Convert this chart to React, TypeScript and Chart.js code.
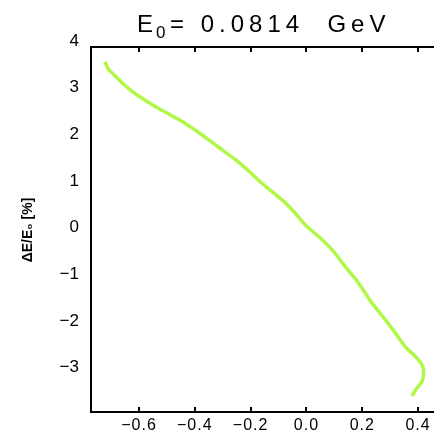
import React, { useEffect, useRef } from "react";
import { Chart, registerables } from "chart.js";

Chart.register(...registerables);

const titleMain = "E";
const titleSub = "0";
const titleRest = "= 0.0814  GeV";
const yTitle = "ΔE/E₀ [%]";

const xTicks = [-0.6, -0.4, -0.2, 0.0, 0.2, 0.4];
const yTicks = [-3, -2, -1, 0, 1, 2, 3, 4];

const phaseX = [
  -0.722, -0.71, -0.686, -0.656, -0.62, -0.585, -0.537, -0.489, -0.441, -0.393,
  -0.346, -0.298, -0.25, -0.202, -0.16, -0.087, -0.04, -0.004, 0.044, 0.092,
  0.139, 0.187, 0.235, 0.283, 0.319, 0.354, 0.39, 0.414, 0.42, 0.414, 0.396, 0.378,
];
const energyY = [
  3.685, 3.529, 3.385, 3.208, 3.03, 2.887, 2.709, 2.55, 2.388, 2.195,
  1.994, 1.778, 1.566, 1.317, 1.081, 0.724, 0.439, 0.188, -0.062, -0.347,
  -0.704, -1.06, -1.488, -1.846, -2.131, -2.418, -2.632, -2.809, -2.987, -3.167, -3.308, -3.473,
];

const FONT = "'Liberation Sans', 'DejaVu Sans', sans-serif";
const fmtMinus = (s: string) => s.replace("-", "−");

const framePlugin = {
  id: "frame",
  afterDraw(chart: any) {
    const { ctx, chartArea } = chart;
    const xs = chart.scales.x;
    const ys = chart.scales.y;
    ctx.save();
    ctx.strokeStyle = "#000";
    ctx.lineWidth = 2;
    ctx.beginPath();
    ctx.moveTo(chartArea.right + 2, chartArea.top);
    ctx.lineTo(chartArea.left, chartArea.top);
    ctx.lineTo(chartArea.left, chartArea.bottom);
    ctx.lineTo(chartArea.right + 2, chartArea.bottom);
    ctx.stroke();
    for (const v of xTicks) {
      const px = Math.round(xs.getPixelForValue(v));
      ctx.beginPath();
      ctx.moveTo(px, chartArea.top);
      ctx.lineTo(px, chartArea.top + 5);
      ctx.moveTo(px, chartArea.bottom);
      ctx.lineTo(px, chartArea.bottom - 5);
      ctx.stroke();
    }
    ctx.fillStyle = "#000";
    // x tick labels
    ctx.font = `16px ${FONT}`;
    ctx.textAlign = "center";
    ctx.textBaseline = "middle";
    (ctx as any).letterSpacing = "1px";
    for (const v of xTicks) {
      const px = xs.getPixelForValue(v);
      ctx.fillText(fmtMinus(v.toFixed(1)), px, 426);
    }
    // y tick labels
    ctx.font = `17px ${FONT}`;
    ctx.textAlign = "right";
    (ctx as any).letterSpacing = "0px";
    for (const v of yTicks) {
      const py = ys.getPixelForValue(v);
      ctx.fillText(fmtMinus(String(v)), 79, py - 6);
    }
    // title
    ctx.textBaseline = "alphabetic";
    ctx.textAlign = "left";
    ctx.font = `24px ${FONT}`;
    (ctx as any).letterSpacing = "3px";
    ctx.fillText(titleMain, 137, 32);
    ctx.font = `17px ${FONT}`;
    ctx.fillText(titleSub, 156, 38);
    ctx.font = `24px ${FONT}`;
    (ctx as any).letterSpacing = "5px";
    ctx.fillText(titleRest, 170, 32);
    (ctx as any).letterSpacing = "0px";
    ctx.restore();
    // y title
    ctx.save();
    ctx.fillStyle = "#000";
    ctx.translate(28, 230);
    ctx.rotate(-Math.PI / 2);
    ctx.textAlign = "center";
    ctx.textBaseline = "middle";
    ctx.font = `bold 14px ${FONT}`;
    ctx.fillText(yTitle, 0, 0);
    ctx.restore();
  },
};

export default function App() {
  const ref = useRef<HTMLCanvasElement>(null);
  useEffect(() => {
    if (!ref.current) return;
    const chart = new Chart(ref.current, {
      type: "line",
      data: {
        datasets: [
          {
            data: phaseX.map((x, i) => ({ x, y: energyY[i] })),
            borderColor: "rgb(176,248,70)",
            borderWidth: 3.5,
            pointRadius: 0,
            tension: 0.3,
            fill: false,
          },
        ],
      },
      options: {
        animation: false,
        responsive: false,
        events: [],
        layout: { padding: { top: 47, right: 0, left: 0, bottom: 0 } },
        plugins: { legend: { display: false }, tooltip: { enabled: false }, title: { display: false } },
        scales: {
          x: {
            type: "linear",
            min: -0.772,
            max: 0.457,
            grid: { display: false },
            border: { display: false },
            afterBuildTicks: (s: any) => {
              s.ticks = xTicks.map((v) => ({ value: v }));
            },
            afterFit: (s: any) => {
              s.height = 28;
              s.paddingLeft = 0;
              s.paddingRight = 0;
            },
            ticks: { display: false },
          },
          y: {
            type: "linear",
            min: -3.82,
            max: 4,
            grid: { display: false },
            border: { display: false },
            afterBuildTicks: (s: any) => {
              s.ticks = yTicks.map((v) => ({ value: v }));
            },
            afterFit: (s: any) => {
              s.width = 91;
              s.paddingTop = 0;
              s.paddingBottom = 0;
            },
            ticks: { display: false },
          },
        },
      },
      plugins: [framePlugin],
    });
    return () => chart.destroy();
  }, []);
  return (
    <div style={{ position: "absolute", left: 0, top: 0, width: 434, height: 440, background: "#fff" }}>
      <canvas ref={ref} width={434} height={440} style={{ display: "block" }} />
    </div>
  );
}
